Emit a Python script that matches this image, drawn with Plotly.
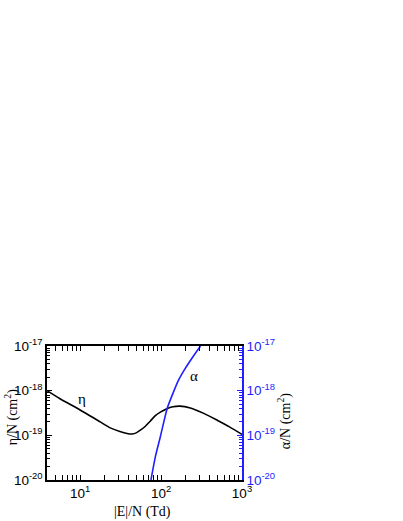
import numpy as np
import plotly.graph_objects as go

# reduced field |E|/N (Td) and coefficients (cm^2)
en_eta = [3.9, 5.65, 10, 17.7, 24, 31, 38, 44, 50, 56, 64, 74, 85, 98, 118, 140, 170,
          230, 337, 500, 700, 1000]
eta = [1.0e-18, 6.6e-19, 3.7e-19, 2.0e-19, 1.45e-19, 1.22e-19, 1.1e-19, 1.07e-19, 1.15e-19,
       1.32e-19, 1.6e-19, 2.1e-19, 2.75e-19, 3.3e-19, 3.95e-19, 4.35e-19, 4.5e-19,
       4.1e-19, 3.1e-19, 2.15e-19, 1.55e-19, 1.05e-19]

en_alpha = [75, 85, 98, 119, 143, 165, 200, 242, 307]
alpha = [1.0e-20, 3.3e-20, 9.3e-20, 4.0e-19, 9.5e-19, 1.74e-18, 3.2e-18, 5.4e-18, 1.0e-17]

x_ticks = [10, 100, 1000]
x_ticktext = ["10<sup>1</sup>", "10<sup>2</sup>", "10<sup>3</sup>"]
y_ticks = [1e-20, 1e-19, 1e-18, 1e-17]
y_ticktext = ["10<sup>-20</sup>", "10<sup>-19</sup>", "10<sup>-18</sup>", "10<sup>-17</sup>"]

# minor ticks at 2..9 of every decade
x_minor = [m * 10.0 ** k for k in range(0, 3) for m in range(2, 10)]
y_minor = [m * 10.0 ** k for k in range(-20, -17) for m in range(2, 10)]

blue = "#1f1fff"
tickfont = dict(family="Liberation Sans, Arial", size=13.5)
titlefont = dict(family="Liberation Serif, Times New Roman", size=14, color="black")

fig = go.Figure()
fig.add_trace(go.Scatter(x=en_eta, y=eta, mode="lines",
                         line=dict(color="black", width=1.6, shape="spline", smoothing=0.8),
                         showlegend=False))
fig.add_trace(go.Scatter(x=en_alpha, y=alpha, mode="lines",
                         line=dict(color=blue, width=1.6, shape="spline", smoothing=0.6),
                         yaxis="y2", showlegend=False))

# curve labels
fig.add_annotation(x=np.log10(10.5), y=np.log10(6.4e-19), text="η", showarrow=False,
                   font=dict(family="Liberation Serif", size=15, color="black"))
fig.add_annotation(x=np.log10(258), y=np.log10(2.1e-18), text="α", showarrow=False,
                   font=dict(family="Liberation Serif", size=15, color="black"))

# axis titles
fig.add_annotation(xref="paper", yref="paper", x=-0.183, y=0.47, text="η/N (cm<sup>2</sup>)",
                   textangle=-90, showarrow=False, font=titlefont, xanchor="center", yanchor="middle")
fig.add_annotation(xref="paper", yref="paper", x=1.215, y=0.446, text="α/N (cm<sup>2</sup>)",
                   textangle=-90, showarrow=False, font=titlefont, xanchor="center", yanchor="middle")
fig.add_annotation(xref="paper", yref="paper", x=0.49, y=-0.24, text="|E|/N (Td)",
                   showarrow=False, font=titlefont, xanchor="center", yanchor="middle")

fig.update_layout(
    width=403, height=521,
    margin=dict(l=47, r=161, t=346, b=41),
    paper_bgcolor="white", plot_bgcolor="white",
    xaxis=dict(type="log", range=[np.log10(3.9), 3], tickvals=x_ticks, ticktext=x_ticktext,
               ticks="inside", ticklen=5, tickcolor="black", showline=True, linecolor="black",
               linewidth=1.5, mirror="allticks", showgrid=False, zeroline=False, automargin=False,
               tickfont=dict(tickfont, color="black"),
               minor=dict(tickvals=x_minor, ticks="inside", ticklen=3, tickcolor="black", showgrid=False)),
    yaxis=dict(type="log", range=[-20, -17], tickvals=y_ticks, ticktext=y_ticktext,
               ticks="inside", ticklen=5, tickcolor="black", showline=True, linecolor="black",
               linewidth=1.5, showgrid=False, zeroline=False, automargin=False,
               tickfont=dict(tickfont, color="black"),
               minor=dict(tickvals=y_minor, ticks="inside", ticklen=3, tickcolor="black", showgrid=False)),
    yaxis2=dict(type="log", range=[-20, -17], overlaying="y", side="right",
                tickvals=y_ticks, ticktext=y_ticktext,
                ticks="inside", ticklen=5, tickcolor=blue, showline=True, linecolor=blue,
                linewidth=1.5, showgrid=False, zeroline=False, automargin=False,
                tickfont=dict(tickfont, color=blue),
                minor=dict(tickvals=y_minor, ticks="inside", ticklen=3, tickcolor=blue, showgrid=False)),
)

# drop the default 8px page margin so the figure sits at the window corner
fig.write_html("out.html", config={"displayModeBar": False},
               post_script="document.body.style.margin = '0';")
